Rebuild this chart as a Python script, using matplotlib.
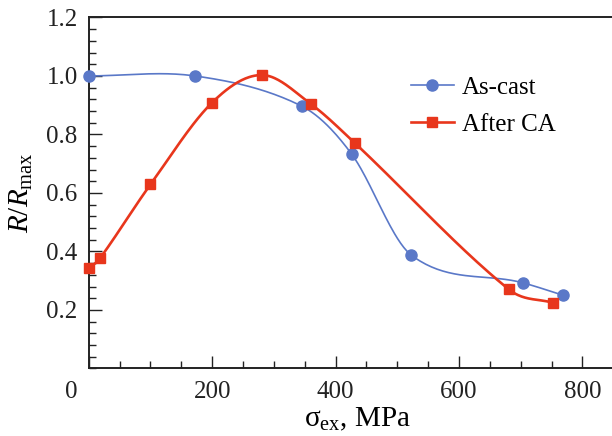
import numpy as np
import matplotlib
matplotlib.use("Agg")
import matplotlib.pyplot as plt
import matplotlib.transforms as mtransforms

# ---- Data ----
ascast_x = [0, 172, 345, 426, 523, 703, 769]
ascast_y = [1.0, 1.0, 0.897, 0.733, 0.387, 0.293, 0.250]

afterca_x = [0, 18, 100, 200, 281, 360, 431, 681, 753]
afterca_y = [0.342, 0.376, 0.629, 0.909, 1.003, 0.904, 0.771, 0.270, 0.224]

x_ticks = [0, 200, 400, 600, 800]
y_ticks = [0.2, 0.4, 0.6, 0.8, 1.0, 1.2]

BLUE = "#5a78c8"
RED = "#e8361c"


def smooth_curve(x, y, n=40):
    """Cubic Hermite curve through the points with central-difference slopes
    (looks like the spline line of the original plot)."""
    x = np.asarray(x, float)
    y = np.asarray(y, float)
    m = np.empty_like(y)
    m[1:-1] = (y[2:] - y[:-2]) / (x[2:] - x[:-2])
    m[0] = (y[1] - y[0]) / (x[1] - x[0])
    m[-1] = (y[-1] - y[-2]) / (x[-1] - x[-2])
    xs_all, ys_all = [], []
    t = np.linspace(0, 1, n)
    for i in range(len(x) - 1):
        h = x[i + 1] - x[i]
        h00 = 2 * t ** 3 - 3 * t ** 2 + 1
        h10 = t ** 3 - 2 * t ** 2 + t
        h01 = -2 * t ** 3 + 3 * t ** 2
        h11 = t ** 3 - t ** 2
        xs_all.append(x[i] + t * h)
        ys_all.append(h00 * y[i] + h10 * h * m[i] + h01 * y[i + 1] + h11 * h * m[i + 1])
    return np.concatenate(xs_all), np.concatenate(ys_all)


plt.rcParams["font.family"] = "Liberation Serif"
plt.rcParams["mathtext.fontset"] = "custom"
plt.rcParams["mathtext.rm"] = "Liberation Serif"
plt.rcParams["mathtext.it"] = "Liberation Serif:italic"

fig = plt.figure(figsize=(6.12, 4.36), dpi=100)
ax = fig.add_axes([0.145, 0.155, 0.855, 0.805])

bx, by = smooth_curve(ascast_x, ascast_y)
rx, ry = smooth_curve(afterca_x, afterca_y)
ax.plot(bx, by, color=BLUE, lw=1.2, clip_on=False)
ax.plot(rx, ry, color=RED, lw=1.9, clip_on=False)
ax.plot(ascast_x, ascast_y, "o", color=BLUE, ms=8, clip_on=False, zorder=3)
ax.plot(afterca_x, afterca_y, "s", color=RED, ms=7, clip_on=False, zorder=3)

# legend proxies
ax.plot([], [], "-o", color=BLUE, lw=1.2, ms=8, label="As-cast")
ax.plot([], [], "-s", color=RED, lw=1.9, ms=7, label="After CA")
ax.legend(loc="upper left", bbox_to_anchor=(0.596, 0.86), frameon=False,
          fontsize=18, handlelength=1.75, handletextpad=0.3, labelspacing=0.58,
          borderaxespad=0)

ax.set_xlim(0, 848)
ax.set_ylim(0, 1.2)
ax.set_xticks(x_ticks)
ax.set_yticks(y_ticks)
ax.set_xticks(np.arange(0, 848, 50), minor=True)
ax.set_yticks(np.arange(0, 1.21, 0.04), minor=True)
ax.set_yticklabels([f"{v:.1f}" for v in y_ticks])
ax.tick_params(which="both", direction="in", labelsize=18, width=1, colors="#222222")
ax.tick_params(which="major", length=9)
ax.tick_params(which="minor", length=5)
ax.tick_params(axis="x", pad=9)
ax.tick_params(axis="y", pad=8)

ax.spines["right"].set_visible(False)
for s in ("left", "bottom", "top"):
    ax.spines[s].set_linewidth(1.4)
    ax.spines[s].set_color("#222222")

# the "0" label sits a little left of its tick in the reference
lab0 = ax.get_xticklabels()[0]
lab0.set_transform(lab0.get_transform() +
                   mtransforms.ScaledTranslation(-0.17, 0, fig.dpi_scale_trans))

ax.set_xlabel("σ$_{\\rm ex}$, MPa", fontsize=21)
ax.xaxis.set_label_coords(0.513, -0.105)
ax.set_ylabel("$\\mathit{R}/\\mathit{R}_{\\rm max}$", fontsize=21)
ax.yaxis.set_label_coords(-0.102, 0.5)

fig.savefig("out.png", dpi=100)
